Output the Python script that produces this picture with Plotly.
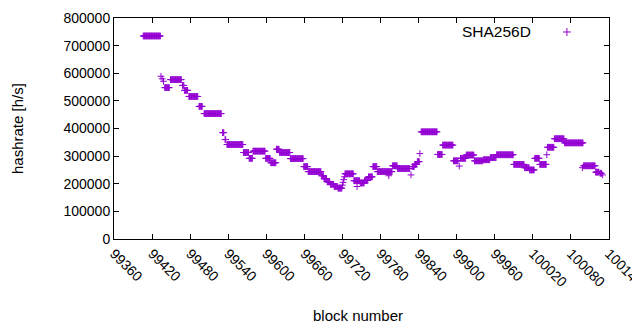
import plotly.graph_objects as go

# Runs of blocks sharing the same hashrate value (start block, end block, value)
run_start = [99406, 99434, 99436, 99438, 99440, 99449, 99468, 99471, 99478, 99494,
             99502, 99531, 99535, 99538, 99564, 99573, 99579, 99599, 99607, 99616,
             99621, 99638, 99659, 99666, 99687, 99691, 99696, 99701, 99707, 99713,
             99720, 99721, 99722, 99723, 99724, 99738, 99743, 99748, 99755, 99761,
             99768, 99775, 99793, 99799, 99807, 99828, 99830, 99834, 99838, 99842,
             99844, 99870, 99878, 99895, 99904, 99906, 99915, 99928, 99942, 99953,
             99963, 99990, 100007, 100015, 100023, 100031, 100042, 100043, 100054, 100070,
             100098, 100100, 100119, 100126, 100130]
run_end = [99433, 99434, 99436, 99438, 99447, 99466, 99470, 99476, 99492, 99499,
           99529, 99533, 99536, 99563, 99572, 99578, 99598, 99606, 99615, 99620,
           99637, 99658, 99665, 99686, 99690, 99695, 99700, 99706, 99712, 99719,
           99720, 99721, 99722, 99723, 99737, 99747, 99743, 99754, 99760, 99767,
           99774, 99798, 99793, 99806, 99826, 99828, 99833, 99837, 99841, 99842,
           99869, 99877, 99894, 99902, 99904, 99914, 99927, 99941, 99952, 99962,
           99989, 100006, 100014, 100022, 100030, 100041, 100042, 100053, 100069, 100099,
           100098, 100118, 100124, 100128, 100130]
run_value = [735000, 589000, 580000, 571000, 548000, 577000, 556000, 538000, 516000, 480000,
             454000, 385000, 360000, 342000, 313000, 292000, 318000, 292000, 276000, 325000,
             313000, 291000, 262000, 244000, 229000, 218000, 207000, 198000, 190000, 184000,
             195000, 205000, 215000, 225000, 236000, 211000, 190000, 203000, 212000, 225000,
             262000, 244000, 229000, 265000, 255000, 232000, 262000, 270000, 280000, 309000,
             388000, 306000, 340000, 283000, 264000, 292000, 304000, 283000, 287000, 295000,
             305000, 270000, 258000, 250000, 292000, 270000, 305000, 332000, 363000, 348000,
             258000, 265000, 242000, 238000, 232000]

x_ticks = list(range(99360, 100141, 60))
y_ticks = list(range(0, 800001, 100000))

blocks, rates = [], []
for s, e, v in zip(run_start, run_end, run_value):
    for b in range(s, e + 1):
        blocks.append(b)
        rates.append(v)

C = "#9400D3"
FONT = "Liberation Sans"
FS = 14

fig = go.Figure()
fig.add_trace(go.Scatter(
    x=blocks, y=rates, mode="markers", name="SHA256D", showlegend=False,
    marker=dict(symbol="cross-thin", size=4.8, color=C, line=dict(color=C, width=1)),
))

axis_common = dict(showline=True, linecolor="black", linewidth=1, mirror="allticks",
                   ticks="inside", ticklen=5, tickcolor="black", showgrid=False,
                   zeroline=False, automargin=False, ticklabeloverflow="allow",
                   tickfont=dict(family=FONT, size=FS, color="black"))

fig.update_xaxes(range=[99360, 100140], tickvals=x_ticks, ticktext=[str(t) for t in x_ticks],
                 tickangle=45, **axis_common)
fig.update_yaxes(range=[0, 800000], tickvals=y_ticks, ticktext=[str(t) for t in y_ticks],
                 **axis_common)

# axis titles
fig.add_annotation(xref="paper", yref="paper", x=0.493, y=-0.344, text="block number",
                   showarrow=False, xanchor="center", yanchor="middle",
                   font=dict(family=FONT, size=FS + 1, color="black"))
fig.add_annotation(xref="paper", yref="paper", x=-0.196, y=0.502, text="hashrate [h/s]",
                   showarrow=False, xanchor="center", yanchor="middle", textangle=-90,
                   font=dict(family=FONT, size=FS + 1, color="black"))

# legend: gnuplot style (text then sample)
fig.add_annotation(xref="paper", yref="paper", x=0.8465, y=0.9367, text="SHA256D",
                   showarrow=False, xanchor="right", yanchor="middle",
                   font=dict(family=FONT, size=FS + 1.5, color="black"))
fig.add_shape(type="line", xref="paper", yref="paper", xsizemode="pixel", ysizemode="pixel",
              xanchor=0.915, yanchor=0.9367, x0=-4, x1=4, y0=0, y1=0, line=dict(color=C, width=1))
fig.add_shape(type="line", xref="paper", yref="paper", xsizemode="pixel", ysizemode="pixel",
              xanchor=0.915, yanchor=0.9367, x0=0, x1=0, y0=-4, y1=4, line=dict(color=C, width=1))

# the page body adds an 8px offset; margins compensate so the plot box sits at 114..609 x 18..239
fig.update_layout(width=640, height=330, margin=dict(l=106, r=39, t=10, b=99),
                  plot_bgcolor="white", paper_bgcolor="white",
                  font=dict(family=FONT, size=FS, color="black"))

fig.write_html("out.html")
